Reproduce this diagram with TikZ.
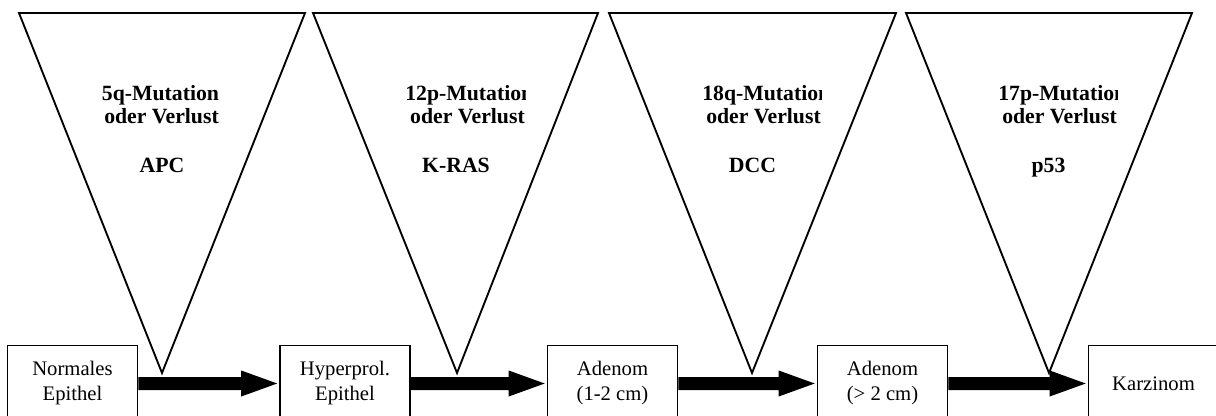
\documentclass[tikz,border=0pt]{standalone}
\usepackage{fontspec}
\setmainfont{Liberation Serif}
\usetikzlibrary{calc}
\newcommand\fatarrow[2]{%
  \fill[black] ($(#1.east)+(0,-6.5)$) -- ($(#2.west)+(-38,-6.5)$) -- ($(#2.west)+(-38,-13)$)
    -- ($(#2.west)+(-2,0)$) -- ($(#2.west)+(-38,13)$) -- ($(#2.west)+(-38,6.5)$)
    -- ($(#1.east)+(0,6.5)$) -- cycle;}
\begin{document}
\begin{tikzpicture}[x=0.75pt,y=-0.75pt,
  stage/.style={draw,line width=1.2pt,minimum width=97.5pt,minimum height=57pt,
    inner sep=0pt,align=center,font=\fontsize{15.5}{18.75}\selectfont},
  wedge/.style={draw,line width=1.4pt,line join=miter},
  mut/.style={font=\fontsize{16.3}{17.25}\selectfont\bfseries,inner sep=0pt},
]
\clip (0,0) rectangle (1216,416);
% triangles
\coordinate (t1a) at (19,13);   \coordinate (t1b) at (305,13);  \coordinate (t1c) at (162,373);
\coordinate (t2a) at (313,13);  \coordinate (t2b) at (598,13);  \coordinate (t2c) at (457,373);
\coordinate (t3a) at (609,13);  \coordinate (t3b) at (896,13);  \coordinate (t3c) at (752,373);
\coordinate (t4a) at (906,13);  \coordinate (t4b) at (1192,13); \coordinate (t4c) at (1049,373);
\draw[wedge] (t1a) -- (t1b) -- (t1c) -- cycle;
\draw[wedge] (t2a) -- (t2b) -- (t2c) -- cycle;
\draw[wedge] (t3a) -- (t3b) -- (t3c) -- cycle;
\draw[wedge] (t4a) -- (t4b) -- (t4c) -- cycle;
% boxes
\node[stage] (b1) at (72.5,383.5) {Normales\\Epithel};
\node[stage] (b2) at (345,383.5) {Hyperprol.\\Epithel};
\node[stage] (b3) at (612.5,383.5) {Adenom\\(1-2 cm)};
\node[stage] (b4) at (882.5,383.5) {Adenom\\(> 2 cm)};
\node[stage] (b5) at (1153.5,383.5) {Karzinom};
% arrows
\fatarrow{b1}{b2}
\fatarrow{b2}{b3}
\fatarrow{b3}{b4}
\fatarrow{b4}{b5}
% labels
\node[mut,anchor=base] (m1a) at (160.5,101) {5q-Mutation};
\node[mut,anchor=base] (m1b) at (161.5,124) {oder Verlust};
\node[mut,anchor=base] (g1) at (162,173) {APC};
\begin{scope}
  \clip (300,0) rectangle (525,416);
  \node[mut,anchor=base west] (m2a) at (405,101) {12p-Mutation};
\end{scope}
\node[mut,anchor=base east] (m2b) at (525,124) {oder Verlust};
\node[mut,anchor=base] (g2) at (456,173) {K-RAS};
\begin{scope}
  \clip (600,0) rectangle (821,416);
  \node[mut,anchor=base west] (m3a) at (702,101) {18q-Mutation};
\end{scope}
\node[mut,anchor=base east] (m3b) at (821,124) {oder Verlust};
\node[mut,anchor=base] (g3) at (752.5,173) {DCC};
\begin{scope}
  \clip (900,0) rectangle (1117,416);
  \node[mut,anchor=base west] (m4a) at (998,101) {17p-Mutation};
\end{scope}
\node[mut,anchor=base east] (m4b) at (1117,124) {oder Verlust};
\node[mut,anchor=base] (g4) at (1048.5,173) {p53};
\end{tikzpicture}
\end{document}
